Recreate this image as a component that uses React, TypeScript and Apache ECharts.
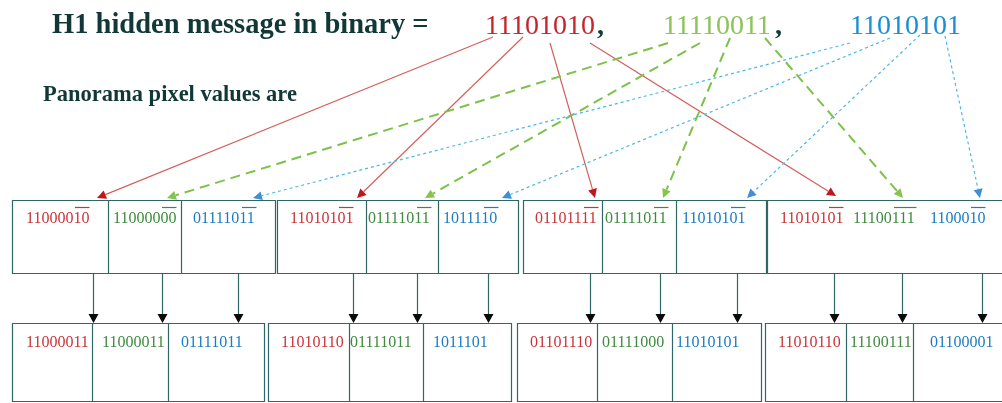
import React, { useEffect, useRef } from "react";
import * as echarts from "echarts";

const TITLE = "H1 hidden message in binary =";
const SUBTITLE = "Panorama pixel values are";
const MESSAGE_BYTES = ["11101010", "11110011", "11010101"];
const TOP_VALUES = [
  ["11000010", "11000000", "01111011"],
  ["11010101", "01111011", "1011110"],
  ["01101111", "01111011", "11010101"],
  ["11010101", "11100111", "1100010"],
];
const OVERLINE_COUNT = [
  [2, 2, 2],
  [2, 2, 2],
  [2, 2, 2],
  [2, 3, 2],
];
const BOTTOM_VALUES = [
  ["11000011", "11000011", "01111011"],
  ["11010110", "01111011", "1011101"],
  ["01101110", "01111000", "11010101"],
  ["11010110", "11100111", "01100001"],
];

// layout (pixels)
const FONT = "Liberation Serif";
const MSG_X = [485, 663, 850];
const MSG_COLORS = ["#c4262e", "#8cc35a", "#1b8fd2"];
const CELL_COLORS = ["#c9343a", "#3f8a3f", "#1b7cc0"];
const LINE_COLORS = ["#d2605c", "#7cc24a", "#49b8e6"];
const TOP_Y = [200, 273];
const BOT_Y = [323, 401];
const TOP_GROUPS = [
  { x0: 12, x1: 275, div: [108, 181] },
  { x0: 277, x1: 518, div: [366, 438] },
  { x0: 523, x1: 766, div: [602, 676] },
  { x0: 767, x1: 1012, div: [] as number[] },
];
const BOT_GROUPS = [
  { x0: 12, x1: 264, div: [92, 168] },
  { x0: 268, x1: 511, div: [349, 423] },
  { x0: 517, x1: 761, div: [597, 672] },
  { x0: 765, x1: 1012, div: [846, 913] },
];
const TOP_TEXT_X = [
  [26, 113, 193],
  [290, 368, 443],
  [535, 605, 682],
  [780, 853, 930],
];
const BOT_TEXT_X = [
  [26, 102, 181],
  [281, 350, 433],
  [530, 602, 676],
  [778, 850, 930],
];
const DOWN_X = [
  [93, 162, 238],
  [353, 417, 488],
  [590, 660, 737],
  [834, 902, 982],
];
const LINKS = [
  [
    [493, 37, 97, 198],
    [523, 37, 357, 198],
    [550, 43, 595, 198],
    [590, 43, 836, 196],
  ],
  [
    [668, 43, 167, 198],
    [700, 43, 425, 198],
    [730, 38, 663, 198],
    [765, 38, 903, 198],
  ],
  [
    [850, 43, 253, 198],
    [890, 38, 502, 198],
    [920, 35, 747, 198],
    [945, 36, 980, 198],
  ],
];
const LINK_DASH: (number[] | null)[] = [null, [10, 6], [3, 3]];

const BOX_STROKE = "#2e6766";
const DIGIT_W = 8; // 16px Liberation Serif digit width

function arrow(x1: number, y1: number, x2: number, y2: number, color: string, headColor: string, dash: number[] | null, width: number, hl = 10, hw = 4.5) {
  const dx = x2 - x1, dy = y2 - y1;
  const len = Math.sqrt(dx * dx + dy * dy);
  const ux = dx / len, uy = dy / len;
  const bx = x2 - ux * hl, by = y2 - uy * hl;
  const px = -uy, py = ux;
  return [
    {
      type: "line",
      shape: { x1, y1, x2: bx, y2: by },
      style: { stroke: color, lineWidth: width, lineDash: dash || undefined },
      silent: true,
    },
    {
      type: "polygon",
      shape: { points: [[x2, y2], [bx + px * hw, by + py * hw], [bx - px * hw, by - py * hw]] },
      style: { fill: headColor },
      silent: true,
    },
  ];
}

export default function App() {
  const ref = useRef<HTMLDivElement>(null);
  useEffect(() => {
    const chart = echarts.init(ref.current!, null, { renderer: "svg" });
    const els: any[] = [];
    els.push({ type: "rect", shape: { x: 0, y: 0, width: 1002, height: 403 }, style: { fill: "#ffffff" }, silent: true });

    // links
    LINKS.forEach((group, gi) => {
      group.forEach(([x1, y1, x2, y2]) => {
        const headCol = gi === 0 ? "#c0161e" : gi === 1 ? "#86c44e" : "#3f8fd6";
        els.push(...arrow(x1, y1, x2, y2, LINE_COLORS[gi], headCol, LINK_DASH[gi], gi === 1 ? 2 : 1.2, 9, 4.5));
      });
    });

    // title
    els.push({
      type: "text", x: 52, y: 23,
      style: { text: TITLE, fontFamily: FONT, fontSize: 28.5, fontWeight: "bold", fill: "#113836", verticalAlign: "middle", align: "left" },
    });
    els.push({
      type: "text", x: 43, y: 93,
      style: { text: SUBTITLE, fontFamily: FONT, fontSize: 22.5, fontWeight: "bold", fill: "#113836", verticalAlign: "middle", align: "left" },
    });
    MESSAGE_BYTES.forEach((b, i) => {
      els.push({
        type: "text", x: MSG_X[i], y: 24,
        style: { text: b, fontFamily: FONT, fontSize: 28, fill: MSG_COLORS[i], verticalAlign: "middle", align: "left" },
      });
      if (i < MESSAGE_BYTES.length - 1) {
        els.push({
          type: "text", x: MSG_X[i] + 8 * 14, y: 24,
          style: { text: ",", fontFamily: FONT, fontSize: 28, fontWeight: "bold", fill: "#123a38", verticalAlign: "middle", align: "left" },
        });
      }
    });

    // boxes
    const drawGroups = (groups: any[], ys: number[]) => {
      groups.forEach((g) => {
        els.push({
          type: "rect",
          shape: { x: g.x0 + 0.5, y: ys[0] + 0.5, width: g.x1 - g.x0, height: ys[1] - ys[0] },
          style: { fill: "none", stroke: BOX_STROKE, lineWidth: 1.2 },
          silent: true,
        });
        g.div.forEach((dx: number) => {
          els.push({
            type: "line",
            shape: { x1: dx + 0.5, y1: ys[0], x2: dx + 0.5, y2: ys[1] },
            style: { stroke: BOX_STROKE, lineWidth: 1.2 },
            silent: true,
          });
        });
      });
    };
    drawGroups(TOP_GROUPS, TOP_Y);
    drawGroups(BOT_GROUPS, BOT_Y);

    // cell texts
    TOP_VALUES.forEach((grp, gi) => {
      grp.forEach((v, ci) => {
        const x = TOP_TEXT_X[gi][ci];
        els.push({
          type: "text", x, y: 217,
          style: { text: v, fontFamily: FONT, fontSize: 16, fill: CELL_COLORS[ci], verticalAlign: "middle", align: "left" },
        });
        const n = OVERLINE_COUNT[gi][ci];
        const xs = x + (v.length - n) * DIGIT_W;
        els.push({
          type: "line",
          shape: { x1: xs + 1, y1: 207.5, x2: x + v.length * DIGIT_W - 0.5, y2: 207.5 },
          style: { stroke: CELL_COLORS[ci], lineWidth: 1.2 },
          silent: true,
        });
      });
    });
    BOTTOM_VALUES.forEach((grp, gi) => {
      grp.forEach((v, ci) => {
        els.push({
          type: "text", x: BOT_TEXT_X[gi][ci], y: 341,
          style: { text: v, fontFamily: FONT, fontSize: 16, fill: CELL_COLORS[ci], verticalAlign: "middle", align: "left" },
        });
      });
    });

    // down arrows
    DOWN_X.forEach((grp) => {
      grp.forEach((x) => {
        els.push(...arrow(x + 0.5, TOP_Y[1], x + 0.5, BOT_Y[0], BOX_STROKE, "#0a0a0a", null, 1.2, 9, 5));
      });
    });

    chart.setOption({ animation: false, graphic: { elements: els } });
    return () => chart.dispose();
  }, []);
  return <div ref={ref} style={{ position: "fixed", left: 0, top: 0, width: 1002, height: 403 }} />;
}
